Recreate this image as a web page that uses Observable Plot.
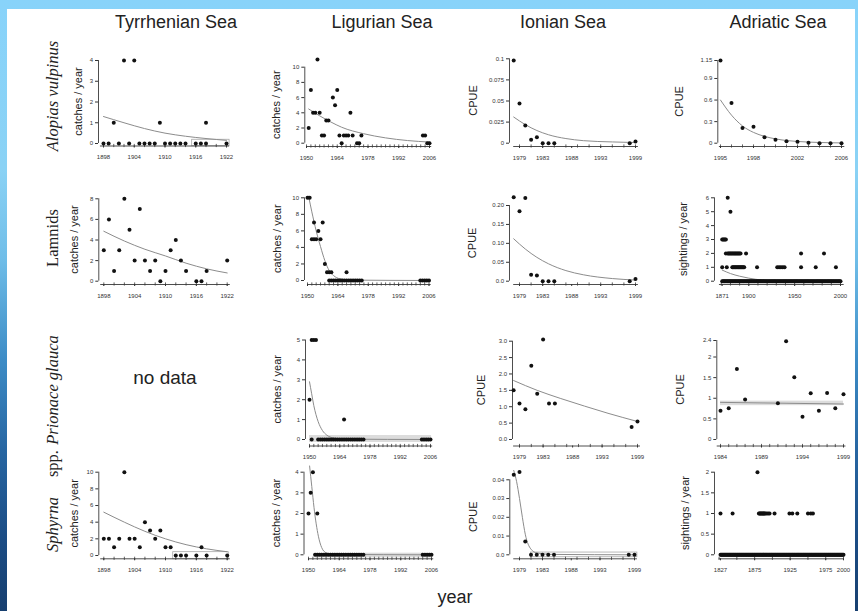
<!DOCTYPE html>
<html>
<head>
<meta charset="utf-8">
<script src="https://cdn.jsdelivr.net/npm/d3@7"></script>
<script src="https://cdn.jsdelivr.net/npm/@observablehq/plot@0.6"></script>
<style>
  html, body { margin: 0; padding: 0; }
  body {
    width: 858px; height: 611px; overflow: hidden; position: relative;
    background: linear-gradient(180deg, #88d3fa 0px, #8ad2f5 170px, #6fbde8 260px, #3d8cc6 360px, #2766a2 450px, #1b4c84 540px, #173f6f 611px);
    font-family: "Liberation Sans", Arial, sans-serif;
  }
  #sheet { position: absolute; left: 7px; top: 9px; width: 848px; height: 602px; background: #fff; }
  #stage { position: absolute; left: 0; top: 0; width: 858px; height: 611px; }
  #stage svg { position: absolute; left: 0; top: 0; }
</style>
</head>
<body>
<div id="sheet"></div>
<div id="stage"></div>
<script>
// ===================== DATA =====================
const seas = ["Tyrrhenian Sea", "Ligurian Sea", "Ionian Sea", "Adriatic Sea"];
const species = ["Alopias vulpinus", "Lamnids", "Prionace glauca", "Sphyrna spp."];

// x tick labels
const tyrYears = [1898, 1904, 1910, 1916, 1922];
const ligYears = [1950, 1964, 1978, 1992, 2006];
const ionYears = [1979, 1983, 1988, 1993, 1999];
const adrAloYears = [1995, 1998, 2002, 2006];
const adrLamYears = [1871, 1900, 1950, 2000];
const adrPriYears = [1984, 1989, 1994, 1999];
const adrSphYears = [1827, 1875, 1925, 1975, 2000];

// y tick values / labels
const yT_tyrAlo = [0, 1, 2, 3, 4];
const yT_tyrLam = [0, 2, 4, 6, 8];
const yT_tyrSph = [0, 2, 4, 6, 8, 10];
const yT_lig10 = [0, 2, 4, 6, 8, 10];
const yT_ligPri = [0, 1, 2, 3, 4, 5];
const yT_ligSph = [0, 1, 2, 3, 4];
const yT_ionAlo = [0, 0.025, 0.05, 0.075, 0.1];
const yL_ionAlo = ["0", "0.025", "0.05", "0.075", "0.1"];
const yT_ionLam = [0, 0.05, 0.1, 0.15, 0.2];
const yL_ionLam = ["0.0", "0.05", "0.10", "0.15", "0.20"];
const yT_ionPri = [0, 0.5, 1, 1.5, 2, 2.5, 3];
const yL_ionPri = ["0.0", "0.5", "1.0", "1.5", "2.0", "2.5", "3.0"];
const yT_ionSph = [0, 0.01, 0.02, 0.03, 0.04];
const yL_ionSph = ["0.0", "0.01", "0.02", "0.03", "0.04"];
const yT_adrAlo = [0, 0.3, 0.6, 0.9, 1.15];
const yT_adrLam = [0, 1, 2, 3, 4, 5, 6];
const yT_adrPri = [0, 0.5, 1, 1.5, 2, 2.4];
const yT_adrSph = [0, 0.5, 1, 1.5, 2];

// observations [year, value]
const tyrAlopias = [[1898,0],[1899,0],[1900,1],[1901,0],[1902,4],[1903,0],[1904,4],[1905,0],[1906,0],[1907,0],[1908,0],[1909,1],[1910,0],[1911,0],[1912,0],[1913,0],[1914,0],[1916,0],[1917,0],[1918,0],[1918,1],[1922,0]];
const tyrLamnids = [[1898,3],[1899,6],[1900,1],[1901,3],[1902,8],[1903,5],[1904,2],[1905,7],[1906,2],[1907,1],[1908,2],[1909,0],[1910,1],[1911,3],[1912,4],[1913,2],[1914,1],[1916,0],[1917,0],[1918,1],[1922,2]];
const tyrSphyrna = [[1898,2],[1899,2],[1900,1],[1901,2],[1902,10],[1903,2],[1904,2],[1905,1],[1906,4],[1907,3],[1908,2],[1909,3],[1910,1],[1911,1],[1912,0],[1913,0],[1914,0],[1916,0],[1917,1],[1918,0],[1922,0]];

const ligAlopias = [[1951,2],[1952,7],[1953,4],[1954,4],[1955,11],[1956,4],[1957,1],[1958,1],[1959,3],[1960,3],[1962,6],[1963,5],[1964,7],[1965,1],[1966,0],[1967,1],[1968,1],[1969,1],[1970,4],[1971,1],[1973,0],[1974,0],[1975,1],[2003,1],[2004,1],[2005,0],[2006,0]];
const ligLamnids = [[1950,10],[1951,10],[1952,5],[1953,5],[1953,7],[1954,5],[1955,6],[1956,5],[1957,7],[1958,2],[1959,1],[1960,1],[1961,1],[1968,1],
  [1960,0],[1961,0],[1962,0],[1963,0],[1964,0],[1965,0],[1966,0],[1967,0],[1968,0],[1969,0],[1970,0],[1971,0],[1972,0],[1973,0],[1974,0],[1975,0],
  [2002,0],[2003,0],[2004,0],[2005,0],[2006,0]];
const ligPrionace = [[1950,2],[1951,0],[1951,5],[1952,5],[1953,5],[1966,1],
  [1954,0],[1955,0],[1956,0],[1957,0],[1958,0],[1959,0],[1960,0],[1961,0],[1962,0],[1963,0],[1964,0],[1965,0],[1966,0],[1967,0],[1968,0],[1969,0],[1970,0],[1971,0],[1972,0],[1973,0],[1974,0],[1975,0],
  [2002,0],[2003,0],[2004,0],[2005,0],[2006,0]];
const ligSphyrna = [[1950,2],[1951,3],[1952,4],[1954,2],
  [1953,0],[1954,0],[1955,0],[1956,0],[1957,0],[1958,0],[1959,0],[1960,0],[1961,0],[1962,0],[1963,0],[1964,0],[1965,0],[1966,0],[1967,0],[1968,0],[1969,0],[1970,0],[1971,0],[1972,0],[1973,0],[1974,0],[1975,0],
  [2002,0],[2003,0],[2004,0],[2005,0],[2006,0]];

const ionAlopias = [[1978,0.098],[1979,0.047],[1980,0.021],[1981,0.004],[1982,0.007],[1983,0],[1984,0],[1985,0],[1998,0],[1999,0.002]];
const ionLamnids = [[1978,0.222],[1979,0.185],[1980,0.22],[1981,0.017],[1982,0.015],[1983,0],[1984,0],[1985,0],[1998,0],[1999,0.006]];
const ionPrionace = [[1978,1.5],[1979,1.1],[1980,0.92],[1981,2.25],[1982,1.4],[1983,3.05],[1984,1.1],[1985,1.1],[1998,0.38],[1999,0.55]];
const ionSphyrna = [[1978,0.0427],[1979,0.0442],[1980,0.0071],[1981,0],[1982,0],[1983,0],[1984,0],[1985,0],[1998,0],[1999,0]];

const adrAlopias = [[1995,1.15],[1996,0.56],[1997,0.21],[1998,0.23],[1999,0.084],[2000,0.047],[2001,0.028],[2002,0.019],[2003,0.005],[2004,0],[2005,0],[2006,0]];
// Adriatic sightings: non-zero years; zero sightings were recorded in every year of the run
const adrLamNonzero = [[1871,3],[1872,3],[1873,3],[1874,3],[1875,3],[1877,6],[1880,5],
  [1875,2],[1877,2],[1878,2],[1879,2],[1880,2],[1881,2],[1882,2],[1883,2],[1884,2],[1885,2],[1886,2],[1887,2],[1888,2],[1889,2],[1890,2],[1891,2],[1897,2],[1957,2],[1982,2],
  [1871,1],[1876,1],[1882,1],[1883,1],[1884,1],[1885,1],[1886,1],[1887,1],[1888,1],[1889,1],[1890,1],[1891,1],[1892,1],[1893,1],[1894,1],[1895,1],[1909,1],[1931,1],[1933,1],[1935,1],[1937,1],[1939,1],[1957,1],[1973,1],[1995,1]];
const adrLamZeroRun = [1871, 2000];
const adrPrionace = [[1984,0.7],[1985,0.76],[1986,1.71],[1987,0.97],[1991,0.88],[1992,2.38],[1993,1.51],[1994,0.55],[1995,1.12],[1996,0.7],[1997,1.13],[1998,0.76],[1999,1.1]];
const adrSphNonzero = [[1827,1],[1844,1],[1879,2],[1881,1],[1882,1],[1883,1],[1884,1],[1885,1],[1886,1],[1887,1],[1888,1],[1889,1],[1890,1],[1892,1],[1894,1],[1896,1],[1903,1],[1924,1],[1928,1],[1935,1],[1950,1],[1954,1],[1957,1]];
const adrSphZeroRun = [1827, 2000];

// fitted curves [year, value]
const tyrAloFit = [[1898,1.3],[1902,1.0],[1906,0.72],[1910,0.5],[1914,0.35],[1918,0.24],[1922,0.15]];
const tyrLamFit = [[1898,4.85],[1902,3.9],[1906,3.1],[1910,2.45],[1914,1.75],[1918,1.2],[1922,0.8]];
const tyrSphFit = [[1898,5.2],[1902,4.0],[1906,2.9],[1910,2.0],[1914,1.3],[1918,0.8],[1922,0.45]];
const ligAloFit = [[1951,4.5],[1956,3.6],[1961,2.8],[1966,2.1],[1976,1.25],[1986,0.7],[1996,0.35],[2006,0.15]];
const ligLamFit = [[1950.5,10.2],[1952,8.3],[1954,6.0],[1956,4.1],[1958,2.4],[1960,1.2],[1962,0.6],[1965,0.2],[1970,0.05],[2006,0]];
const ligPriFit = [[1950,2.9],[1951,2.3],[1952,1.7],[1953,1.25],[1954,0.9],[1956,0.45],[1958,0.22],[1961,0.08],[1966,0.02],[2006,0]];
const ligSphFit = [[1950.5,4.3],[1951.5,3.3],[1952.5,2.3],[1953.5,1.5],[1954.5,0.9],[1956,0.35],[1958,0.1],[1962,0.02],[2006,0]];
const ionAloFit = [[1978,0.031],[1980,0.022],[1982,0.015],[1984,0.010],[1987,0.0055],[1990,0.003],[1995,0.0015],[1999,0.0008]];
const ionLamFit = [[1978,0.112],[1980,0.085],[1982,0.063],[1984,0.046],[1987,0.028],[1990,0.017],[1995,0.007],[1999,0.003]];
const ionPriFit = [[1978,1.8],[1982,1.5],[1986,1.25],[1990,1.02],[1994,0.8],[1999,0.55]];
const ionSphFit = [[1978,0.045],[1978.5,0.039],[1979,0.03],[1979.5,0.02],[1980,0.011],[1981,0.003],[1982,0.001],[1985,0.0002],[1999,0]];
const adrAloFit = [[1995,0.6],[1996,0.39],[1997,0.24],[1998,0.15],[1999,0.095],[2000,0.06],[2001,0.037],[2002,0.024],[2004,0.01],[2006,0.004]];
const adrLamFit = [[1871,0.8],[1880,0.55],[1890,0.36],[1900,0.22],[1915,0.08],[1930,0.03],[2000,0]];
const adrPriFit = [[1984,0.9],[1999,0.86]];

// confidence bands {x1,x2,y1,y2}
const tyrAloBand = {x1:1915.3, x2:1922.6, y1:-0.13, y2:0.18};
const tyrSphBand = {x1:1911.5, x2:1922.3, y1:-0.45, y2:0.4};
const ligPriBand = {x1:1950, x2:2006.5, y1:-0.15, y2:0.2};
const ligSphBand = {x1:1953, x2:2006.5, y1:-0.15, y2:0.08};
const ionSphBand = {x1:1981, x2:1999.5, y1:-0.0013, y2:0.0012};
const adrPriBand = {x1:1984, x2:1999, y1:0.82, y2:0.93};

// ===================== LAYOUT (page pixels) =====================
const W = 858, H = 611;
const AX = "#3a3a3a";
const zeros = run => d3.range(run[0], run[1] + 1).map(y => [y, 0]);

const panels = [
  {data: tyrAlopias, fit: tyrAloFit, band: tyrAloBand, outline: true, yT: yT_tyrAlo, xT: tyrYears, minor: d3.range(1898, 1923, 2), xLine: [1897.4, 1922.6], lab: "catches / year",
   L: {ax: 98, ay: 145.5, xd: [1898, 1922], xr: [103, 226], yd: [0, 4], yr: [143, 60], labX: 78}},
  {data: tyrLamnids, fit: tyrLamFit, yT: yT_tyrLam, xT: tyrYears, minor: d3.range(1898, 1923, 2), xLine: [1897.4, 1922.6], lab: "catches / year",
   L: {ax: 98.3, ay: 284, xd: [1898, 1922], xr: [103.3, 226.7], yd: [0, 8], yr: [280.7, 198.3], labX: 74}},
  {data: tyrSphyrna, fit: tyrSphFit, band: tyrSphBand, outline: true, yT: yT_tyrSph, xT: tyrYears, minor: d3.range(1898, 1923, 2), xLine: [1897.4, 1922.6], lab: "catches / year",
   L: {ax: 98.3, ay: 558.3, xd: [1898, 1922], xr: [103.3, 226.7], yd: [0, 10], yr: [555, 471.7], labX: 74}},

  {data: ligAlopias, fit: ligAloFit, yT: yT_lig10, xT: ligYears, minor: d3.range(1950, 2007, 2), xLine: [1950.3, 2007], lab: "catches / year",
   L: {ax: 304.3, ay: 146, xd: [1950, 2006], xr: [306, 429], yd: [0, 10], yr: [142.7, 66.7], labX: 276}},
  {data: ligLamnids, fit: ligLamFit, yT: yT_lig10, xT: ligYears, minor: d3.range(1950, 2007, 2), xLine: [1950, 2007], lab: "catches / year",
   L: {ax: 304, ay: 284, xd: [1950, 2006], xr: [307, 428.5], yd: [0, 10], yr: [280, 197.3], labX: 276.5}},
  {data: ligPrionace, fit: ligPriFit, band: ligPriBand, yT: yT_ligPri, xT: ligYears, minor: d3.range(1950, 2007, 2), xLine: [1950, 2007], lab: "catches / year",
   L: {ax: 305, ay: 445.5, xd: [1950, 2006], xr: [309, 430], yd: [0, 5], yr: [439, 339.5], labX: 277}},
  {data: ligSphyrna, fit: ligSphFit, band: ligSphBand, yT: yT_ligSph, xT: ligYears, minor: d3.range(1950, 2007, 2), xLine: [1950, 2007], lab: "catches / year",
   L: {ax: 303.5, ay: 558.3, xd: [1950, 2006], xr: [308, 431], yd: [0, 4], yr: [554.3, 471.7], labX: 276}},

  {data: ionAlopias, fit: ionAloFit, yT: yT_ionAlo, yL: yL_ionAlo, xT: ionYears, minor: d3.range(1979, 2000, 2), xLine: [1978, 1999.5], lab: "CPUE",
   L: {ax: 509, ay: 146, xd: [1979, 1999], xr: [519, 635], yd: [0, 0.1], yr: [142.7, 58.3], labX: 473}},
  {data: ionLamnids, fit: ionLamFit, yT: yT_ionLam, yL: yL_ionLam, xT: ionYears, minor: d3.range(1979, 2000, 2), xLine: [1978, 1999.5], lab: "CPUE",
   L: {ax: 509, ay: 284, xd: [1979, 1999], xr: [519, 635], yd: [0, 0.2], yr: [280.7, 205], labX: 472}},
  {data: ionPrionace, fit: ionPriFit, yT: yT_ionPri, yL: yL_ionPri, xT: ionYears, minor: d3.range(1979, 2000, 2), xLine: [1978, 1999.5], lab: "CPUE",
   L: {ax: 512, ay: 445.5, xd: [1979, 1999], xr: [519, 637], yd: [0, 3], yr: [439, 340.7], labX: 481}},
  {data: ionSphyrna, fit: ionSphFit, band: ionSphBand, outline: true, yT: yT_ionSph, yL: yL_ionSph, xT: ionYears, minor: d3.range(1979, 2000, 2), xLine: [1978, 1999.5], lab: "CPUE",
   L: {ax: 509.3, ay: 558.3, xd: [1979, 1999], xr: [519, 634], yd: [0, 0.04], yr: [554.3, 479.3], labX: 473}},

  {data: adrAlopias, fit: adrAloFit, yT: yT_adrAlo, xT: adrAloYears, minor: d3.range(1995, 2007), xLine: [1994.9, 2006.3], lab: "CPUE",
   L: {ax: 717.3, ay: 146, xd: [1995, 2006], xr: [720, 841], yd: [0, 1.15], yr: [142.7, 60], labX: 679}},
  {data: zeros(adrLamZeroRun).concat(adrLamNonzero), fit: adrLamFit, yT: yT_adrLam, xT: adrLamYears, minor: d3.range(1870, 2001, 10), xLine: [1868, 2004], lab: "sightings / year",
   L: {ax: 714, ay: 284, xd: [1871, 2000], xr: [721.7, 840], yd: [0, 6], yr: [280.7, 197.3], labX: 683}},
  {data: adrPrionace, fit: adrPriFit, band: adrPriBand, yT: yT_adrPri, xT: adrPriYears, minor: d3.range(1984, 2000), xLine: [1983.6, 1999.3], lab: "CPUE",
   L: {ax: 716.3, ay: 445.5, xd: [1984, 1999], xr: [720, 843], yd: [0, 2.4], yr: [439, 340], labX: 679.5}},
  {data: zeros(adrSphZeroRun).concat(adrSphNonzero), yT: yT_adrSph, xT: adrSphYears, minor: d3.range(1825, 2001, 25), xLine: [1825, 2000.5], lab: "sightings / year",
   L: {ax: 714, ay: 558.3, xd: [1827, 2000], xr: [720, 843], yd: [0, 2], yr: [554.3, 471.7], labX: 685}}
];

const FONT = "'Liberation Sans', Arial, Helvetica, sans-serif";
const stage = document.getElementById("stage");

function drawPanel(p) {
  const L = p.L;
  const xInv = v => L.xd[0] + (v - L.xr[0]) * (L.xd[1] - L.xd[0]) / (L.xr[1] - L.xr[0]);
  const yInv = v => L.yd[0] + (v - L.yr[0]) * (L.yd[1] - L.yd[0]) / (L.yr[1] - L.yr[0]);
  const yAxisVal = yInv(L.ay), xAxisVal = xInv(L.ax);
  const labels = p.yL || p.yT.map(String);
  const marks = [];
  if (p.band) {
    marks.push(Plot.rect([p.band], {x1: "x1", x2: "x2", y1: "y1", y2: "y2",
      fill: p.outline ? "none" : "#dcdcdc", stroke: p.outline ? "#a8a8a8" : "none", strokeWidth: 0.8}));
  }
  marks.push(Plot.ruleX([xAxisVal], {y1: p.yT[0], y2: p.yT[p.yT.length - 1], stroke: AX, strokeWidth: 0.9}));
  marks.push(Plot.ruleY([yAxisVal], {x1: p.xLine[0], x2: p.xLine[1], stroke: AX, strokeWidth: 0.9}));
  marks.push(Plot.ruleX(p.minor, {y1: yInv(L.ay - 1.6), y2: yInv(L.ay + 1.6), stroke: AX, strokeWidth: 0.8}));
  marks.push(Plot.axisY(p.yT, {anchor: "left", tickSize: 3, tickPadding: 2.5, fontSize: 6, color: "#333", label: null,
    tickFormat: d => labels[p.yT.indexOf(d)]}));
  marks.push(Plot.axisX(p.xT, {anchor: "bottom", tickSize: 2, tickPadding: 7, fontSize: 6, color: "#333", label: null,
    tickFormat: d => String(d)}));
  if (p.fit) marks.push(Plot.line(p.fit, {x: d => d[0], y: d => d[1], stroke: "#8c8c8c", strokeWidth: 1, curve: "monotone-x"}));
  marks.push(Plot.dot(p.data, {x: d => d[0], y: d => d[1], r: 2, fill: "#111", stroke: "none"}));
  const svg = Plot.plot({
    width: W, height: H,
    marginLeft: L.ax, marginRight: 0, marginTop: 0, marginBottom: H - L.ay,
    x: {type: "linear", domain: L.xd, range: L.xr, label: null},
    y: {type: "linear", domain: L.yd, range: L.yr, label: null},
    style: {background: "transparent", overflow: "visible", fontFamily: FONT},
    marks
  });
  stage.appendChild(svg);
}
panels.forEach(drawPanel);

// ===================== TEXT OVERLAY =====================
const ov = d3.select(stage).append("svg").attr("width", W).attr("height", H)
  .style("position", "absolute").style("left", 0).style("top", 0).style("overflow", "visible");

const headerX = [176, 382, 563, 778];
seas.forEach((s, i) => ov.append("text").attr("x", headerX[i]).attr("y", 28)
  .attr("text-anchor", "middle").attr("font-family", FONT).attr("font-size", 18).attr("fill", "#222").text(s));

const speciesY = [96, 238, 390];
const serif = "'Liberation Serif', 'Times New Roman', serif";
[0, 1, 2].forEach(i => ov.append("text")
  .attr("transform", `translate(52,${speciesY[i]}) rotate(-90)`)
  .attr("text-anchor", "middle").attr("dominant-baseline", "central")
  .attr("font-family", serif).attr("font-size", 16.5).attr("fill", "#222")
  .attr("font-style", i === 1 ? "normal" : "italic").text(species[i]));
// "Sphyrna spp." with wide gap
const sp = species[3].split(" ");
ov.append("text").attr("transform", "translate(52,552) rotate(-90)")
  .attr("text-anchor", "start").attr("dominant-baseline", "central")
  .attr("font-family", serif).attr("font-size", 16.5).attr("font-style", "italic").attr("fill", "#222").text(sp[0]);
ov.append("text").attr("transform", "translate(52,450) rotate(-90)")
  .attr("text-anchor", "end").attr("dominant-baseline", "central")
  .attr("font-family", serif).attr("font-size", 16.5).attr("fill", "#222").text(sp[1]);

panels.forEach(p => {
  const cy = (p.L.yr[0] + p.L.yr[1]) / 2;
  ov.append("text").attr("transform", `translate(${p.L.labX},${cy}) rotate(-90)`)
    .attr("text-anchor", "middle").attr("dominant-baseline", "central")
    .attr("font-family", FONT).attr("font-size", 11).attr("fill", "#222").text(p.lab);
});

ov.append("text").attr("x", 165).attr("y", 384).attr("text-anchor", "middle")
  .attr("font-family", FONT).attr("font-size", 19).attr("fill", "#222").text("no data");
ov.append("text").attr("x", 455).attr("y", 603).attr("text-anchor", "middle")
  .attr("font-family", FONT).attr("font-size", 18).attr("fill", "#222").text("year");
</script>
</body>
</html>
